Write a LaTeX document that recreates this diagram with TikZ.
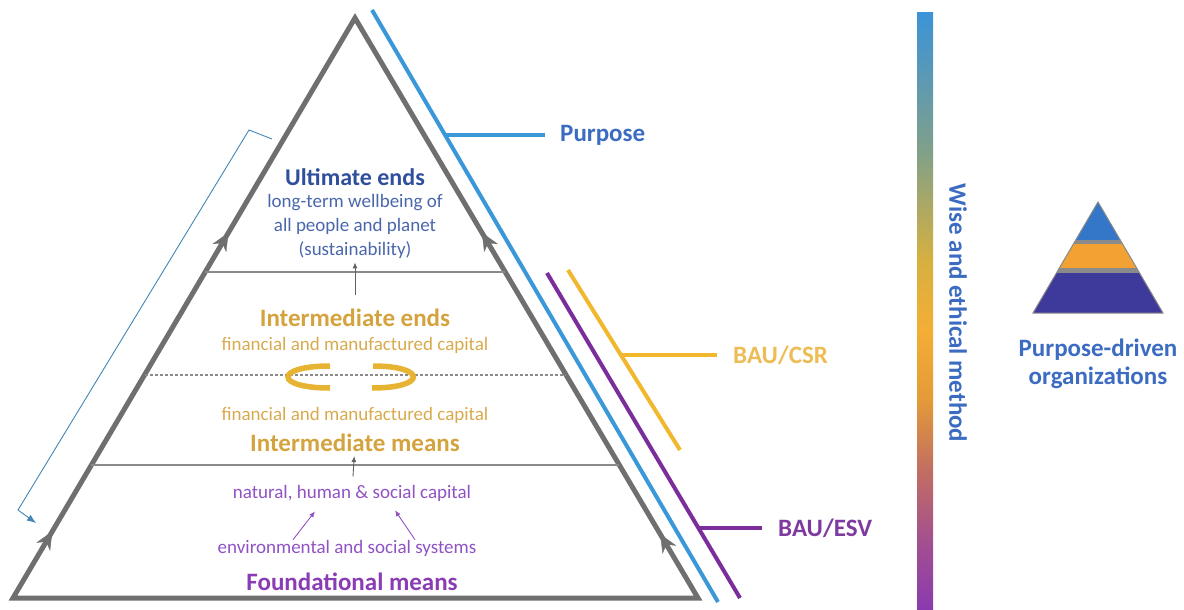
\documentclass[tikz,border=0pt]{standalone}
\usepackage{fontspec}
\setmainfont{Carlito}
\usetikzlibrary{arrows.meta,calc,positioning,decorations.markings}

\definecolor{edgegray}{HTML}{6F6F6F}
\definecolor{linegray}{HTML}{8A8A8A}
\definecolor{purposeblue}{HTML}{3A97D8}
\definecolor{textblue}{HTML}{3B6CC2}
\definecolor{ultblue}{HTML}{2F4E9C}
\definecolor{subblue}{HTML}{4A67AC}
\definecolor{esvpurple}{HTML}{7B2D9C}
\definecolor{esvtext}{HTML}{7E3A9E}
\definecolor{csryellow}{HTML}{F1B82E}
\definecolor{csrtext}{HTML}{EDBC55}
\definecolor{goldtext}{HTML}{D4A33E}
\definecolor{goldsub}{HTML}{D8AA4E}
\definecolor{swirlgold}{HTML}{E6B432}
\definecolor{fmpurple}{HTML}{8A3CB4}
\definecolor{natpurple}{HTML}{9052C4}
\definecolor{pdblue}{HTML}{3476C8}
\definecolor{pdorange}{HTML}{F2A233}
\definecolor{pdindigo}{HTML}{3E3A9C}
% colours of the method bar, bottom to top
\definecolor{barA}{HTML}{8A3AB0}
\definecolor{barB}{HTML}{A4508E}
\definecolor{barC}{HTML}{C26E62}
\definecolor{barD}{HTML}{E39A38}
\definecolor{barE}{HTML}{F4AE35}
\definecolor{barF}{HTML}{D6B040}
\definecolor{barG}{HTML}{80A08A}
\definecolor{barH}{HTML}{3C93D8}

\pgfdeclareverticalshading{wisebar}{100bp}{color(0bp)=(barA); color(25bp)=(barA);
  color(30.9bp)=(barB); color(36.7bp)=(barC); color(42.6bp)=(barD);
  color(48.4bp)=(barE); color(54.3bp)=(barF); color(63.5bp)=(barG);
  color(75bp)=(barH); color(100bp)=(barH)}

\begin{document}
\begin{tikzpicture}[x=1pt, y=-1pt,
    node distance=26pt,
    edge/.style={line width=5pt, edgegray, line join=miter},
    tier/.style={line width=1.4pt, linegray},
    band/.style={line width=4pt},
    head/.style={font=\fontsize{25}{28}\selectfont\bfseries, inner sep=0pt},
    sub/.style={font=\fontsize{19}{24}\selectfont, inner sep=0pt, align=center},
    tag/.style={font=\fontsize{25}{28}\selectfont\bfseries, inner sep=0pt, anchor=west},
    tick/.style={-{Latex[length=6pt,width=5pt]}, line width=0.9pt},
    swirl/.style={line width=5.5pt, swirlgold},
    midtip/.style={postaction={decorate, decoration={markings,
        mark=at position #1 with {\arrow{Stealth[length=18pt,width=16pt]}}}}}
]
\useasboundingbox (0,0) rectangle (1184,610);

% main pyramid
\coordinate (apex) at (355,18);
\coordinate (bl) at (13,598);
\coordinate (br) at (698,598);
\draw[edge] (bl) -- (apex) -- (br) -- cycle;
\path[edgegray, midtip=0.115, midtip=0.63] (bl) -- (apex);
\path[edgegray, midtip=0.11, midtip=0.63] (br) -- (apex);

% tiers
\coordinate (ul) at ($(bl)!0.562!(apex)$);
\coordinate (ur) at ($(br)!0.562!(apex)$);
\coordinate (ml) at ($(bl)!0.3845!(apex)$);
\coordinate (mr) at ($(br)!0.3845!(apex)$);
\coordinate (dl) at ($(bl)!0.229!(apex)$);
\coordinate (dr) at ($(br)!0.229!(apex)$);
\draw[tier] (ul) -- (ur);
\draw[tier, dashed, dash pattern=on 3pt off 2pt] (ml) -- (mr);
\draw[tier] (dl) -- (dr);

% feedback bracket on the left
\coordinate (fbtop) at (272,139);
\coordinate (fbcorner) at (249,130);
\coordinate (fbfoot) at (18,510);
\coordinate (fbend) at (36,523);
\draw[purposeblue!80!black!90, line width=0.9pt, -{Latex[length=9pt,width=7pt]}]
    (fbtop) -- (fbcorner) -- (fbfoot) -- (fbend);

% ends and means
\node[head, text=ultblue, font=\fontsize{24}{28}\selectfont\bfseries] (ultimate) at (355,177) {Ultimate ends};
\node[sub, text=subblue] (ultsub) at (355,226) {long-term wellbeing of\\all people and planet\\(sustainability)};
\node[head, text=goldtext] (intends) at (355,318) {Intermediate ends};
\node[sub, text=goldsub] (finup) at (355,345) {financial and manufactured capital};
\node[sub, text=goldsub] (findown) at (355,415) {financial and manufactured capital};
\node[head, text=goldtext] (intmeans) at (355,443) {Intermediate means};
\node[sub, text=natpurple] (natural) at (352,493) {natural, human \& social capital};
\node[sub, text=natpurple] (envsys) at (347,548) {environmental and social systems};
\node[head, text=fmpurple] (found) at (352,582) {Foundational means};

\draw[tick, linegray!70!black, shorten <=14pt, shorten >=4pt] (intends) -- (ultsub);
\draw[tick, linegray!70!black, shorten <=8pt, shorten >=4pt] (natural) -- (intmeans);
\draw[tick, natpurple] ([xshift=-54pt]envsys.north) -- ([xshift=-37pt,yshift=-10pt]natural.south);
\draw[tick, natpurple] ([xshift=68pt]envsys.north) -- ([xshift=43pt,yshift=-9pt]natural.south);

% exchange between the two capital layers
\draw[swirl] (330,366) .. controls (274,366) and (274,388) .. (330,388);
\draw[swirl] (373,366) .. controls (427,366) and (427,388) .. (372,388);

% approaches along the right flank
\coordinate (pua) at (372,10);
\coordinate (pub) at (718,602);
\coordinate (put) at (445,135);
\node[tag, text=textblue] (purpose) at (560,135) {Purpose};
\draw[band, purposeblue] (pua) -- (pub);
\draw[band, purposeblue, shorten >=15pt] (put) -- (purpose.west);

\coordinate (csra) at (568,270);
\coordinate (csrb) at (680,450);
\coordinate (csrt) at (621,355);
\node[tag, text=csrtext] (csr) at (733,355) {BAU/CSR};
\draw[band, csryellow] (csra) -- (csrb);
\draw[band, csryellow, shorten >=16pt] (csrt) -- (csr.west);

\coordinate (esva) at (547,273);
\coordinate (esvb) at (740,598);
\coordinate (esvt) at (698,528);
\node[tag, text=esvtext] (esv) at (778,528) {BAU/ESV};
\draw[band, esvpurple] (esva) -- (esvb);
\draw[band, esvpurple, shorten >=16pt] (esvt) -- (esv.west);

% method bar
\shade[shading=wisebar] (917,13) rectangle (933,610);
\node[rotate=-90, text=textblue, font=\fontsize{25}{28}\selectfont\bfseries, inner sep=0pt]
    (wise) at (958,313) {Wise and ethical method};

% small pyramid
\coordinate (pdtop) at (1098,202);
\coordinate (pdl) at (1033,313);
\coordinate (pdr) at (1163,313);
\coordinate (pdbase) at (1098,313);
\fill[linegray] (pdtop) -- (pdl) -- (pdr) -- cycle;
\begin{scope}
  \clip (pdtop) -- (pdl) -- (pdr) -- cycle;
  \fill[pdblue] (1030,200) rectangle (1166,240);
  \fill[pdorange] (1030,244) rectangle (1166,268);
  \fill[pdindigo] (1030,273) rectangle (1166,313);
\end{scope}
\draw[linegray, line width=1pt] (pdtop) -- (pdl) -- (pdr) -- cycle;
\node[below=26pt of pdbase, align=center, text=textblue, inner sep=0pt,
    font=\fontsize{25}{28}\selectfont\bfseries] (pdlabel) {Purpose-driven\\organizations};
\end{tikzpicture}
\end{document}
